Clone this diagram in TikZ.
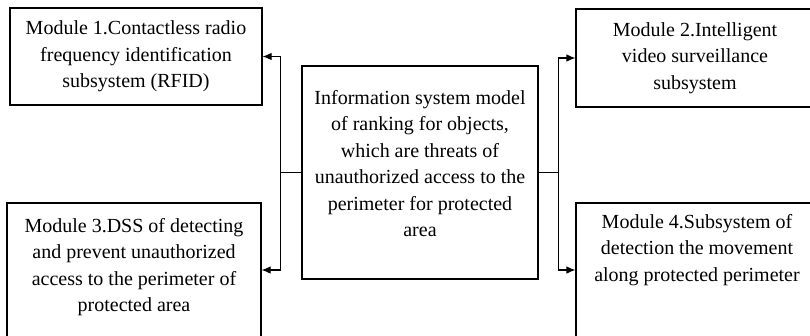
\documentclass[tikz,border=0pt]{standalone}
\usepackage{fontspec}
\setmainfont{Liberation Serif}
\usetikzlibrary{positioning,arrows.meta}

\begin{document}
\begin{tikzpicture}[x=1pt, y=-1pt, node distance=10pt,
  modbox/.style={draw, line width=1.1pt, inner sep=0pt},
  modtext/.style={align=center, font=\fontsize{20}{26.5}\selectfont},
  link/.style={line width=1.1pt},
  arr/.style={line width=1.1pt, -{Latex[length=9pt, width=7.5pt]}}]
  \path[use as bounding box, clip] (0, 0) rectangle (810, 335);
  % modules
  \node[modbox, modtext, minimum width=252pt, minimum height=97pt] (m1) at (136, 56.5)
    {Module 1.Contactless radio\\frequency identification\\subsystem (RFID)};
  \node[modbox, modtext, minimum width=238pt, minimum height=98pt] (m2) at (695, 58)
    {Module 2.Intelligent\\video surveillance\\subsystem};
  \node[modbox, minimum width=254pt, minimum height=134pt] (m3) at (134, 270) {};
  \node[modtext, below=12pt of m3.north] (t3)
    {Module 3.DSS of detecting\\and prevent unauthorized\\access to the perimeter of\\protected area};
  \node[modbox, minimum width=242pt, minimum height=134pt] (m4) at (697, 270) {};
  \node[modtext, below=8pt of m4.north] (t4)
    {Module 4.Subsystem of\\detection the movement\\along protected perimeter};
  % central model
  \node[modbox, line width=2.5pt, minimum width=236pt, minimum height=213pt] (centre) at (420, 172.5) {};
  \node[modtext] (tc) at (420, 163.5)
    {Information system model\\of ranking for objects,\\which are threats of\\unauthorized access to the\\perimeter for protected\\area};
  % connectors
  \draw[link] (centre.west) -- ++(-20, 0) coordinate (lj);
  \draw[link] (centre.east) -- ++(19, 0) coordinate (rj);
  \draw[arr] (lj) |- (m1.east);
  \draw[arr] (lj) |- (m3.east);
  \draw[arr] (rj) |- (m2.west);
  \draw[arr] (rj) |- (m4.west);
\end{tikzpicture}
\end{document}
